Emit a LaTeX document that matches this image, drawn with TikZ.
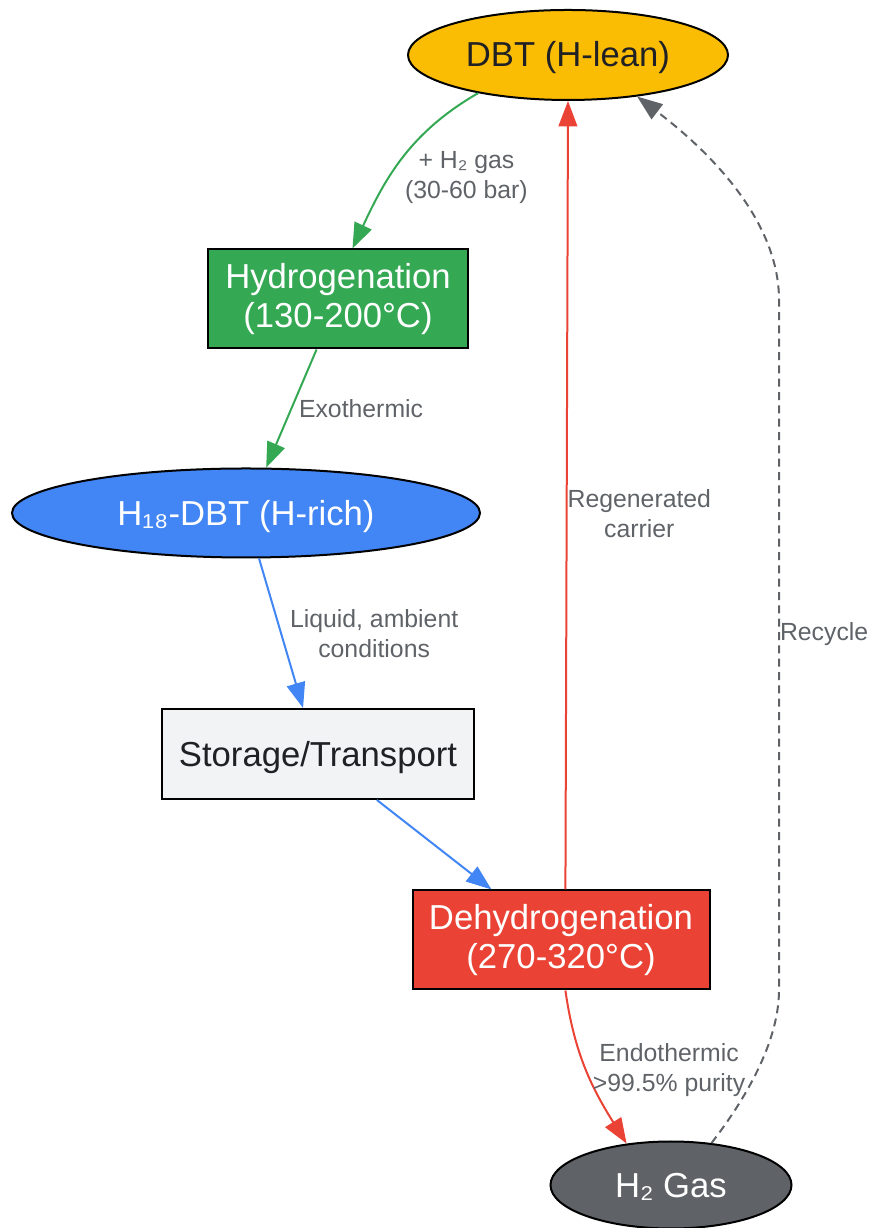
\documentclass[tikz,border=0pt]{standalone}
\usepackage{fontspec}
\setmainfont{Liberation Sans}
\usetikzlibrary{arrows.meta,shapes.geometric}

\definecolor{dbtyellow}{HTML}{FBBC04}
\definecolor{hydgreen}{HTML}{34A853}
\definecolor{richblue}{HTML}{4285F4}
\definecolor{dehydred}{HTML}{EA4335}
\definecolor{gasgray}{HTML}{5F6368}
\definecolor{storegray}{HTML}{F1F3F4}
\definecolor{inkdark}{HTML}{202124}
\newcommand\linestrut{\rule[-0.212em]{0pt}{1.117em}}

\begin{document}
\begin{tikzpicture}[x=0.75pt,y=0.75pt]
	\tikzset{
		base/.style={draw=black,line width=1.5pt,inner sep=0pt,align=center,
			font=\fontsize{26}{29}\selectfont,
			execute at begin node=\linestrut,execute at end node=\linestrut},
		blob/.style={base,ellipse},
		box/.style={base,rectangle},
		lbl/.style={text=gasgray,font=\fontsize{18.6}{22.5}\selectfont,align=center,inner sep=2pt},
		flow/.style={line width=1.5pt,-{Triangle[length=19pt,width=14pt]}}
	}
	\useasboundingbox (0,0) rectangle (870,1228);
	\node[blob,fill=dbtyellow,text=inkdark,minimum width=240pt,minimum height=67.5pt] (dbt) at (568,1173) {DBT (H-lean)};
	\node[box,fill=hydgreen,text=white,minimum width=195pt,minimum height=74.25pt] (hyd) at (338,929) {Hydrogenation\\(130-200°C)};
	\node[blob,fill=richblue,text=white,minimum width=351pt,minimum height=66.75pt] (rich) at (246,715) {H₁₈-DBT (H-rich)};
	\node[box,fill=storegray,text=inkdark,minimum width=234pt,minimum height=67.5pt] (store) at (318,474) {Storage/Transport};
	\node[box,fill=dehydred,text=white,minimum width=222.75pt,minimum height=74.25pt] (dehyd) at (561,288) {Dehydrogenation\\(270-320°C)};
	\node[blob,fill=gasgray,text=white,minimum width=180.75pt,minimum height=65.25pt] (gas) at (671,43) {H₂ Gas};
	\path
		(dbt.203) edge[flow,hydgreen,out=-150,in=65] node[lbl,pos=0.62,anchor=west,xshift=9pt] {+ H₂ gas\\(30-60 bar)} (hyd.74)
		(hyd.247) edge[flow,hydgreen] node[lbl,pos=0.5,anchor=west,xshift=3pt] {Exothermic} (rich.66)
		(rich.286) edge[flow,richblue] node[lbl,pos=0.5,anchor=west,xshift=4pt] {Liquid, ambient\\conditions} (store.108)
		(store.-38) edge[flow,richblue] (dehyd.144)
		(dehyd.85) edge[flow,dehydred] node[lbl,pos=0.477,anchor=west,inner sep=0pt] {Regenerated\\carrier} (dbt.south)
		(dehyd.-85) edge[flow,dehydred,out=-82,in=122] node[lbl,pos=0.5,anchor=west,xshift=2pt] {Endothermic\\>99.5\% purity} (gas.137);
	% recycle loop back to the lean carrier
	\draw[flow,gasgray,dash pattern=on 6pt off 4pt]
		(gas.46) .. controls (737,118) and (779,180) .. (779,238)
		-- node[lbl,pos=0.516,anchor=west,inner sep=0pt] {Recycle} (779,928)
		.. controls (779,1010) and (705,1080) .. (dbt.-31);
\end{tikzpicture}
\end{document}
